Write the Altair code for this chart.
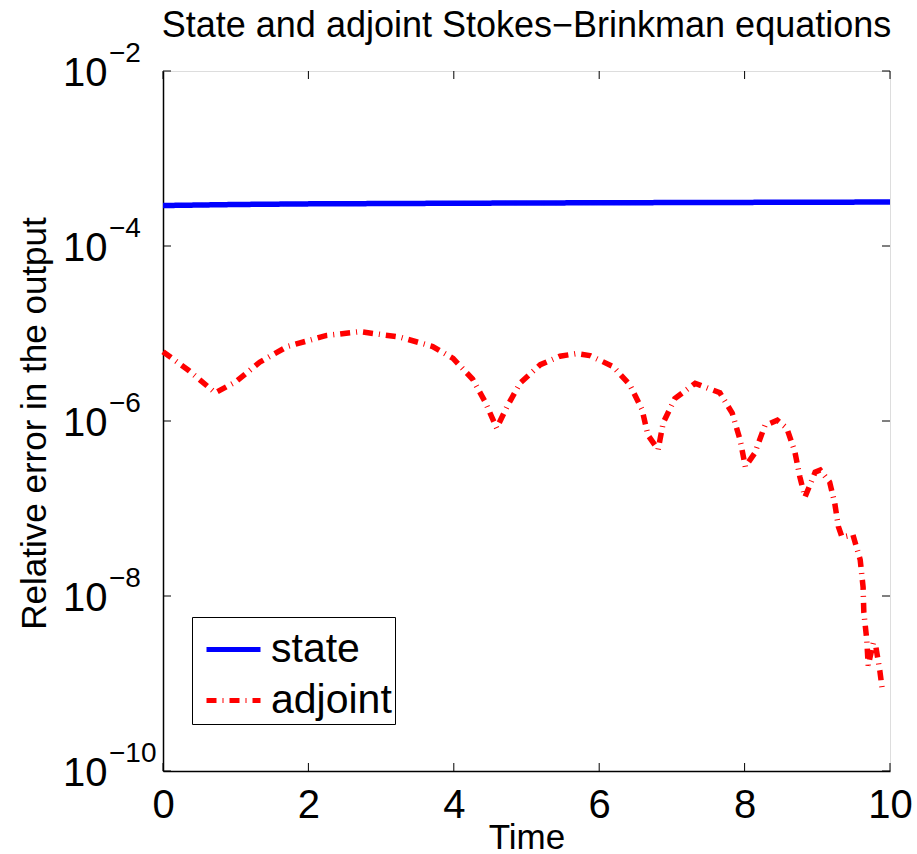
import altair as alt
import pandas as pd

FONT = "Liberation Sans"

# State solution error (nearly constant over time)
state_t = [0, 1, 2, 4, 6, 8, 10]
state_err = [2.9e-4, 2.98e-4, 3.03e-4, 3.08e-4, 3.12e-4, 3.15e-4, 3.18e-4]

# Adjoint solution error
adj_t = [0, 0.35, 0.72, 1.0, 1.33, 1.71, 2.25, 2.71, 3.26, 3.71, 3.99, 4.26,
         4.43, 4.59, 4.73, 4.91, 5.19, 5.46, 5.69, 5.87, 6.19, 6.42, 6.59,
         6.67, 6.81, 6.88, 7.04, 7.32, 7.66, 7.83, 7.94, 8.01, 8.14, 8.28,
         8.45, 8.58, 8.69, 8.76, 8.83, 8.97, 9.04, 9.17, 9.24, 9.29, 9.34,
         9.49, 9.59, 9.63, 9.64, 9.68, 9.70, 9.77, 9.80, 9.86, 9.90]
adj_err = [6.2e-6, 3.8e-6, 2.1e-6, 2.8e-6, 4.7e-6, 7.1e-6, 9.5e-6, 1.05e-5,
           9.1e-6, 7.1e-6, 5.2e-6, 3.0e-6, 1.66e-6, 8.3e-7, 1.45e-6, 2.7e-6,
           4.4e-6, 5.5e-6, 5.9e-6, 5.6e-6, 4.2e-6, 2.6e-6, 1.35e-6, 6.9e-7,
           4.7e-7, 9.5e-7, 1.8e-6, 2.7e-6, 2.1e-6, 1.23e-6, 6.0e-7, 3.0e-7,
           4.3e-7, 8.9e-7, 1.02e-6, 8.3e-7, 4.5e-7, 2.3e-7, 1.35e-7, 2.6e-7,
           2.75e-7, 2.0e-7, 1.15e-7, 6.2e-8, 4.7e-8, 5.0e-8, 2.6e-8, 1.26e-8,
           6.5e-9, 3.2e-9, 1.6e-9, 2.9e-9, 2.8e-9, 1.4e-9, 7.8e-10]

series_names = ["state", "adjoint"]
series_colors = ["#0000ff", "#ff0000"]
series_dash = [[1, 0], [10, 6, 1, 6]]

x_ticks = [0, 2, 4, 6, 8, 10]
y_ticks = [1e-2, 1e-4, 1e-6, 1e-8, 1e-10]
y_exponents = ["\u22122", "\u22124", "\u22126", "\u22128", "\u221210"]

W, H = 727, 700
TICK = 8

lines_df = pd.concat([
    pd.DataFrame({"t": state_t, "err": state_err, "series": "state"}),
    pd.DataFrame({"t": adj_t, "err": adj_err, "series": "adjoint"}),
])
xt_df = pd.DataFrame({"t": x_ticks})
yt_df = pd.DataFrame({"v": y_ticks, "e": y_exponents})

x_scale = alt.Scale(domain=[0, 10], nice=False, zero=False)
y_scale = alt.Scale(type="log", domain=[1e-10, 1e-2], nice=False)

legend = alt.Legend(
    title=None, orient="none", legendX=29, legendY=546,
    strokeColor="black", fillColor="white", padding=3,
    labelFont=FONT, labelFontSize=41, labelColor="black", labelOffset=8,
    labelLimit=400, symbolType="stroke", symbolSize=2916,
    symbolStrokeWidth=5, symbolOffset=9, rowPadding=1, cornerRadius=0,
)

lines = alt.Chart(lines_df).mark_line(strokeWidth=5.5, strokeCap="butt").encode(
    x=alt.X("t:Q", scale=x_scale, axis=alt.Axis(
        values=x_ticks, format="d", ticks=False, grid=False, labelFont=FONT,
        labelFontSize=40, labelColor="black", labelPadding=14,
        labelFlush=False, labelOverlap=False, domainColor="black",
        domainWidth=1.5,
        title="Time", titleFont=FONT, titleFontSize=35,
        titleFontWeight="normal", titleColor="black",
        titleBaseline="alphabetic", titleY=77)),
    y=alt.Y("err:Q", scale=y_scale, axis=alt.Axis(
        values=y_ticks, labels=False, ticks=False, grid=False,
        domainColor="black", domainWidth=1.5,
        title="Relative error in the output", titleFont=FONT,
        titleFontSize=35, titleFontWeight="normal", titleColor="black",
        titleBaseline="alphabetic", titleX=-118, titleY=352)),
    color=alt.Color("series:N", scale=alt.Scale(domain=series_names, range=series_colors), legend=legend),
    strokeDash=alt.StrokeDash("series:N", scale=alt.Scale(domain=series_names, range=series_dash), legend=legend),
    order=alt.Order("t:Q"),
)

# inward tick marks on all four sides
xt_bottom = alt.Chart(xt_df).mark_rule(color="black", strokeWidth=1).encode(
    x=alt.X("t:Q", scale=x_scale), y=alt.value(H), y2=alt.value(H - TICK))
xt_top = alt.Chart(xt_df).mark_rule(color="black", strokeWidth=1).encode(
    x=alt.X("t:Q", scale=x_scale), y=alt.value(0), y2=alt.value(TICK))
yt_left = alt.Chart(yt_df).mark_rule(color="black", strokeWidth=1).encode(
    y=alt.Y("v:Q", scale=y_scale), x=alt.value(0), x2=alt.value(TICK))
yt_right = alt.Chart(yt_df).mark_rule(color="black", strokeWidth=1).encode(
    y=alt.Y("v:Q", scale=y_scale), x=alt.value(W), x2=alt.value(W - TICK))

# power-of-ten tick labels: base and superscript exponent
y_base = alt.Chart(yt_df).mark_text(
    text="10", align="left", baseline="alphabetic", font=FONT,
    fontSize=40, dy=15, color="black").encode(
    y=alt.Y("v:Q", scale=y_scale), x=alt.value(-100))
y_exp = alt.Chart(yt_df).mark_text(
    align="left", baseline="alphabetic", font=FONT,
    fontSize=28, dy=-9, color="black").encode(
    y=alt.Y("v:Q", scale=y_scale), x=alt.value(-54), text="e:N")

chart = alt.layer(
    lines, xt_bottom, xt_top, yt_left, yt_right, y_base, y_exp
).properties(
    width=W, height=H,
    title=alt.TitleParams(
        "State and adjoint Stokes\u2212Brinkman equations",
        font=FONT, fontSize=36, fontWeight="normal", color="black",
        anchor="middle", baseline="alphabetic", offset=0, dy=33),
    autosize=alt.AutoSizeParams(type="none"),
    padding={"left": 163, "top": 71, "right": 27, "bottom": 83},
).configure_view(
    stroke="black", strokeWidth=1.5
).configure(background="white")

chart.save("out.html", embed_options={"renderer": "svg", "actions": False})
